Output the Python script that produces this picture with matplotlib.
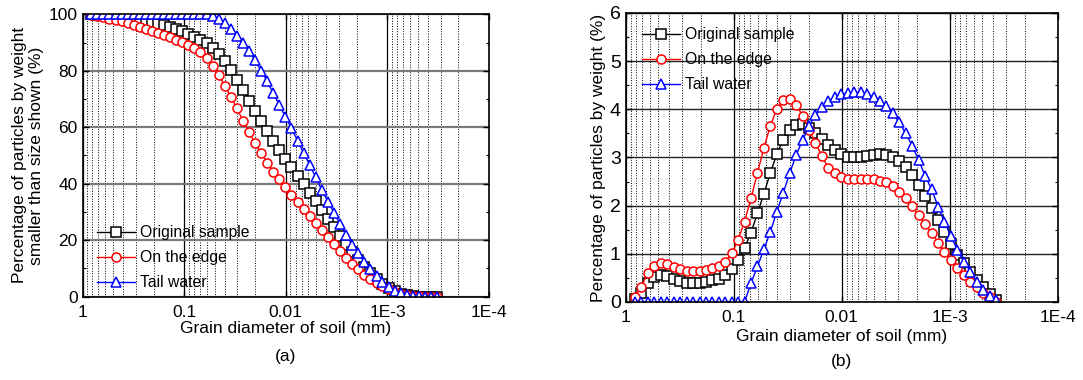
import matplotlib
matplotlib.use("Agg")
import matplotlib.pyplot as plt
from matplotlib.ticker import LogLocator, FixedLocator, MultipleLocator, NullFormatter

plt.rcParams['font.family'] = ['Liberation Sans', 'DejaVu Sans']
plt.rcParams['font.size'] = 12

# grain diameter grid (mm)
diam = [0.820, 0.715, 0.623, 0.543, 0.473, 0.413, 0.360, 0.313, 0.273, 0.238,
        0.207, 0.181, 0.158, 0.137, 0.120, 0.104, 0.0910, 0.0793, 0.0691, 0.0602,
        0.0525, 0.0457, 0.0399, 0.0347, 0.0303, 0.0264, 0.0230, 0.0200, 0.0175, 0.0152,
        0.0133, 0.0116, 0.0101, 0.00879, 0.00766, 0.00668, 0.00582, 0.00507, 0.00442, 0.00385,
        0.00336, 0.00293, 0.00255, 0.00222, 0.00194, 0.00169, 0.00147, 0.00128, 0.00112, 0.000974,
        0.000849, 0.000740, 0.000645, 0.000562, 0.000490, 0.000427, 0.000372, 0.000324]

# (a) cumulative % finer
orig_cum = [100, 99.9, 99.7, 99.4, 99.1, 98.8, 98.5, 98.2, 98.0, 97.7,
            97.3, 96.7, 96.1, 95.5, 94.8, 94.0, 93.0, 92.0, 91.0, 89.7,
            88.0, 85.8, 83.3, 80.4, 76.7, 73.1, 69.4, 65.7, 62.1, 58.6,
            55.2, 51.9, 48.8, 45.8, 42.8, 39.8, 36.8, 33.7, 30.7, 27.6,
            24.5, 21.4, 18.4, 15.6, 12.9, 10.4, 8.2, 6.2, 4.5, 3.0,
            1.8, 0.9, 0.4, 0.1, 0.0, 0.0, 0.0, 0.0]
edge_cum = [99.7, 99.4, 98.9, 98.4, 98.0, 97.5, 96.9, 96.3, 95.6, 94.9,
            94.2, 93.4, 92.6, 91.8, 91.0, 90.1, 89.2, 88.0, 86.6, 84.5,
            81.8, 78.5, 74.7, 70.8, 66.7, 62.3, 58.2, 54.3, 50.8, 47.4,
            44.3, 41.5, 38.7, 36.1, 33.6, 31.0, 28.5, 26.0, 23.5, 21.0,
            18.5, 16.1, 13.8, 11.6, 9.6, 7.8, 6.2, 4.8, 3.6, 2.6,
            1.7, 1.0, 0.5, 0.2, 0.05, 0.0, 0.0, 0.0]
tail_cum = [100, 100, 100, 100, 100, 100, 100, 100, 100, 100,
            100, 100, 100, 100, 100, 100, 100, 100, 100, 100,
            99.5, 98.3, 96.8, 94.8, 92.4, 89.9, 86.9, 83.7, 80.0, 76.2,
            72.0, 67.9, 63.7, 59.6, 55.2, 50.9, 46.6, 42.2, 37.7, 33.6,
            29.7, 25.7, 21.8, 18.2, 15.3, 12.3, 9.6, 7.3, 5.2, 3.5,
            2.0, 1.1, 0.5, 0.2, 0.1, 0.0, 0.0, 0.0]

# (b) % by weight per size class
orig_freq = [0.06, 0.19, 0.40, 0.51, 0.56, 0.53, 0.48, 0.44, 0.40, 0.39,
             0.39, 0.41, 0.45, 0.48, 0.56, 0.68, 0.87, 1.12, 1.44, 1.84,
             2.25, 2.68, 3.07, 3.37, 3.57, 3.68, 3.69, 3.61, 3.50, 3.38,
             3.26, 3.16, 3.08, 3.02, 3.00, 3.00, 3.03, 3.05, 3.07, 3.05,
             3.00, 2.92, 2.80, 2.64, 2.42, 2.20, 1.96, 1.71, 1.46, 1.20,
             0.98, 0.80, 0.63, 0.46, 0.32, 0.17, 0.04]
edge_freq = [0.11, 0.32, 0.61, 0.75, 0.81, 0.78, 0.73, 0.68, 0.65, 0.64,
             0.64, 0.66, 0.70, 0.75, 0.84, 1.01, 1.29, 1.67, 2.15, 2.68,
             3.20, 3.66, 4.00, 4.19, 4.21, 4.09, 3.87, 3.58, 3.30, 3.03,
             2.78, 2.67, 2.59, 2.55, 2.55, 2.55, 2.55, 2.55, 2.52, 2.50,
             2.41, 2.29, 2.15, 1.99, 1.80, 1.62, 1.44, 1.23, 1.04, 0.87,
             0.70, 0.56, 0.42, 0.32, 0.19, 0.10, 0.01]
tail_freq = [0, 0, 0, 0, 0, 0, 0, 0, 0, 0,
             0, 0, 0, 0, 0, 0, 0, 0, 0.39, 0.74,
             1.09, 1.46, 1.87, 2.27, 2.67, 3.05, 3.36, 3.66, 3.88, 4.04,
             4.17, 4.26, 4.31, 4.33, 4.35, 4.35, 4.32, 4.26, 4.18, 4.07,
             3.92, 3.73, 3.50, 3.24, 2.95, 2.62, 2.34, 1.98, 1.67, 1.37,
             1.08, 0.84, 0.63, 0.42, 0.25, 0.13, 0.04]

labels = ["Original sample", "On the edge", "Tail water"]
colors = ["black", "red", "blue"]
markers = ["s", "o", "^"]
xtick_vals = [1, 0.1, 0.01, 1e-3, 1e-4]
xtick_labels = ["1", "0.1", "0.01", "1E-3", "1E-4"]

fig = plt.figure(figsize=(10.83, 3.8), dpi=100)
ax1 = fig.add_axes([0.0762, 0.2197, 0.3754, 0.7426])
ax2 = fig.add_axes([0.5777, 0.2053, 0.3989, 0.7605])


def style_axis(ax, hgrid_color, hgrid_lw):
    ax.set_xscale("log")
    ax.set_xlim(1, 1e-4)
    ax.xaxis.set_major_locator(FixedLocator(xtick_vals))
    ax.set_xticklabels(xtick_labels)
    ax.xaxis.set_minor_locator(LogLocator(base=10, subs=range(2, 10), numticks=20))
    ax.xaxis.set_minor_formatter(NullFormatter())
    ax.grid(which="major", axis="x", color="black", linestyle="-", linewidth=0.9)
    ax.grid(which="minor", axis="x", color="black", linestyle=":", linewidth=0.7)
    ax.grid(which="major", axis="y", color=hgrid_color, linestyle="-", linewidth=hgrid_lw)
    ax.set_axisbelow(True)
    ax.tick_params(which="both", direction="in", top=True, right=True, labelsize=12.5)
    ax.tick_params(which="major", length=4, width=1)
    ax.tick_params(which="minor", length=2.5, width=0.8)
    ax.tick_params(axis="x", which="minor", length=0)
    ax.tick_params(axis="x", which="major", pad=6)
    for sp in ax.spines.values():
        sp.set_linewidth(1.2)


series_a = [orig_cum, edge_cum, tail_cum]
for ys, lab, c, m in zip(series_a, labels, colors, markers):
    ax1.plot(diam, ys, color=c, marker=m, markersize=6.5, markerfacecolor="white",
             markeredgecolor=c, markeredgewidth=1.1, linewidth=1.0, label=lab)
ax1.set_ylim(0, 100)
ax1.yaxis.set_major_locator(MultipleLocator(20))
ax1.yaxis.set_minor_locator(MultipleLocator(10))
style_axis(ax1, "#7a7a7a", 1.6)
ax1.set_xlabel("Grain diameter of soil (mm)", fontsize=12.5, labelpad=1)
ax1.set_ylabel("Percentage of particles by weight\nsmaller than size shown (%)", fontsize=12.5,
               labelpad=3)
ax1.legend(loc="lower left", bbox_to_anchor=(0.021, 0.0), frameon=False, fontsize=11.3,
           handlelength=2.4, borderaxespad=0, labelspacing=0.64, handletextpad=0.3)
ax1.text(0.5, -0.185, "(a)", transform=ax1.transAxes, ha="center", va="top", fontsize=12.5)

series_b = [orig_freq, edge_freq, tail_freq]
for ys, lab, c, m in zip(series_b, labels, colors, markers):
    ax2.plot(diam[:len(ys)], ys, color=c, marker=m, markersize=6.5, markerfacecolor="white",
             markeredgecolor=c, markeredgewidth=1.1, linewidth=1.0, label=lab)
ax2.set_ylim(0, 6)
ax2.yaxis.set_major_locator(MultipleLocator(1))
ax2.yaxis.set_minor_locator(MultipleLocator(0.5))
style_axis(ax2, "#222222", 1.0)
ax2.tick_params(axis="y", labelsize=14)
ax2.set_xlabel("Grain diameter of soil (mm)", fontsize=12.5, labelpad=3)
ax2.set_ylabel("Percentage of particles by weight (%)", fontsize=12.5, labelpad=3)
ax2.legend(loc="upper left", bbox_to_anchor=(0.024, 0.972), frameon=False, fontsize=11.3,
           handlelength=2.4, borderaxespad=0, labelspacing=0.64, handletextpad=0.3)
ax2.text(0.5, -0.18, "(b)", transform=ax2.transAxes, ha="center", va="top", fontsize=12.5)

fig.savefig("out.png", dpi=100)
